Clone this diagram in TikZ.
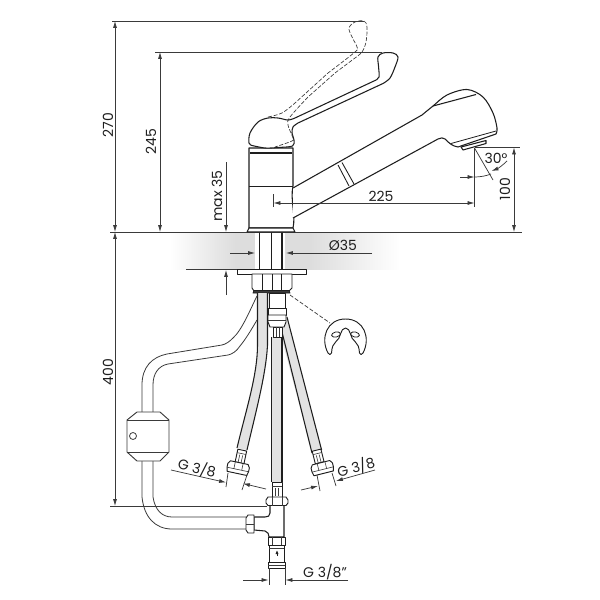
\documentclass[tikz,border=0pt]{standalone}
\usepackage{fontspec}
\setmainfont{Poppins}
\usetikzlibrary{arrows.meta}
\definecolor{ink}{HTML}{1E1E1E}
\definecolor{dimc}{HTML}{3A3A3A}
\definecolor{hosegray}{HTML}{E2E2E2}
\definecolor{bandgray}{HTML}{DDDDDD}
\tikzset{
 x=0.75pt,y=-0.75pt,
 body/.style={draw=ink,line width=0.8pt,line join=round},
 part/.style={draw=ink,line width=0.7pt,line join=round,fill=white},
 thinpart/.style={draw=dimc,line width=0.45pt},
 tube/.style={draw=dimc,line width=0.6pt},
 dimline/.style={draw=dimc,line width=0.55pt},
 dimarrow/.style={dimline,-{Latex[length=5.2pt,width=3pt]}},
 dimboth/.style={dimline,{Latex[length=5.2pt,width=3pt]}-{Latex[length=5.2pt,width=3pt]}},
 label/.style={font=\fontsize{10.5pt}{12pt}\selectfont,text=ink,inner sep=0pt},
 dashedpart/.style={draw=dimc,line width=0.5pt,dash pattern=on 3pt off 1.3pt,line join=round}
}
\begin{document}
\begin{tikzpicture}
\useasboundingbox (0,0) rectangle (600,600);
% counter band
\shade[left color=white,right color=bandgray] (170,232.5) rectangle (235,269.5);
\fill[bandgray] (235,232.5) rectangle (255,269.5);
\fill[bandgray] (285,232.5) rectangle (310,269.5);
\shade[left color=bandgray,right color=white] (310,232.5) rectangle (400,269.5);
% named points
\coordinate (topL) at (112,21); \coordinate (topR) at (364,21);
\coordinate (midL) at (155,52); \coordinate (midR) at (382,52);
\coordinate (baseL) at (110,232); \coordinate (baseR) at (522,232);
\coordinate (lowL) at (110,506); \coordinate (lowR) at (267,506);
\coordinate (a270) at (115,21); \coordinate (b270) at (115,232);
\coordinate (a245) at (160,52); \coordinate (b245) at (160,232);
\coordinate (a400) at (115,232); \coordinate (b400) at (115,506);
\draw[dimline] (topL)--(topR);
\draw[dimline] (midL)--(midR);
\draw[dimline] (baseL)--(baseR);
\draw[dimline] (lowL)--(lowR);
\draw[dimboth] (a270)--(b270);
\draw[dimboth] (a245)--(b245);
\draw[dimboth] (a400)--(b400);
\node[label,rotate=90] (t270) at (108,125) {270};
\node[label,rotate=90] (t245) at (151,142) {245};
\node[label,rotate=90] (t400) at (108,372) {400};
% max 35
\coordinate (m1) at (226,162); \coordinate (m2) at (226,232);
\coordinate (m3) at (226,295); \coordinate (m4) at (226,270);
\draw[dimarrow] (m1)--(m2);
\draw[dimarrow] (m3)--(m4);
\draw[dimline] (186,269.5)--(237,269.5);
\node[label,rotate=90] (tmax) at (217,196) {max 35};
% shaft
\draw[body] (259.5,232)--(259.5,269);
\draw[body] (282,232)--(282,269);
\draw[draw=ink,line width=1.3pt] (271.5,232)--(271.5,269);
% Ø35
\coordinate (d1) at (230,253); \coordinate (d2) at (255,253);
\coordinate (d3) at (372,253); \coordinate (d4) at (286,253);
\draw[dimarrow] (d1)--(d2);
\draw[dimarrow] (d3)--(d4);
\node[label] (tdia) at (343,245.5) {Ø35};
% faucet body
\draw[body,fill=white] (249,148)--(293,148)--(293,186) .. controls (290,200) and (296,215) .. (293,228)--(249,228)--cycle;
\draw[body] (249,186.5)--(293,186.5);
\draw[body,fill=white] (249,228)--(293,228)--(295,232)--(247,232)--cycle;
\draw[body] (250,153)--(292,153);
% spout
\draw[body,fill=white] (293,188) -- (422,115)
 -- plot[smooth,tension=0.55] coordinates {(422,115) (433,106) (447,95) (467,89.5) (483,97) (493,113) (497,128) (496,134)}
 -- (458,147) .. controls (452,146) and (449,143) .. (445,139) .. controls (443,137.5) and (441,137.5) .. (438,139) -- (293,218);
\draw[body] (433,106)--(476,94.5);
\draw[body] (461,147)--(486,140.5)--(486,143.5)--(463,150)--cycle;
\draw[body,line width=0.65pt] (338,165)--(349,186);
\draw[body,line width=0.65pt] (342,162.5)--(354,184);
\draw[body,line width=0.6pt] (451,143.5)--(496,131);
% handle
\draw[body,fill=white] plot[smooth,tension=0.55] coordinates {(252,145.5) (249,143) (250,133) (258,122) (268,118) (278,118) (288,120) (295,118)}
 -- (375,80.5)
 -- plot[smooth,tension=0.55] coordinates {(375,80.5) (379,77) (378.5,66) (378,57) (383,53) (393,53) (398,57) (395,67) (390,78) (383,83.5)}
 -- (298,123)
 -- plot[smooth,tension=0.55] coordinates {(298,123) (293,127) (292,133) (294,140) (292.5,146) (278,147.5) (265,148) (252,145.5)};
% dashed handle
\draw[dashedpart] plot[smooth,tension=0.55] coordinates {(268,117) (282,113) (295,103)} -- (328,73) -- plot[smooth,tension=0.55] coordinates {(328,73) (355,52) (357,47) (352,37) (349,28) (355,22) (364,21) (367,27) (366,42) (362,52) (355,58)} -- (335,73) -- (308,97) -- plot[smooth,tension=0.55] coordinates {(308,97) (290,117) (288,125) (293,138) (292,141) (275,147)};
% 225
\coordinate (l1) at (273.5,203); \coordinate (l2) at (474.5,203);
\draw[dimboth] (l1)--(l2);
\draw[dimline] (273.5,194)--(273.5,207);
\draw[dimline] (474.5,148)--(474.5,207);
\node[label] (t225) at (381,196) {225};
% 100
\coordinate (h1) at (514,147.5); \coordinate (h2) at (514,232);
\draw[dimboth] (h1)--(h2);
\draw[dimline] (474.5,147.5)--(520,147.5);
\node[label,rotate=90] (t100) at (505,189) {100};
% 30
\draw[dimline] (474.5,148)--(493,180);
\coordinate (p1) at (460,177); \coordinate (p2) at (474.5,177);
\draw[dimarrow] (p1)--(p2);
\draw[dimline] (p2) .. controls (480,177) and (486,176) .. (491,174);
\draw[dimarrow] (507,161) .. controls (503,165) and (498,168.5) .. (491.5,171);
\node[label] (t30) at (496,158) {30°};
% flange and nut
\draw[part] (237,269.5) rectangle (306,274);
\draw[part] (252,274)--(292,274)--(292,288)--(289,291)--(254,291)--(252,288)--cycle;
\draw[part] (262,274)--(262,291) (272,274)--(272,291) (281,274)--(281,291);
\draw[draw=ink,fill=dimc,line width=0.5pt] (254,290.5)--(289,290.5)--(290,293)--(253,293)--cycle;
% leader and clip
\coordinate (c0) at (290,295); \coordinate (c1) at (330,323);
\draw[dimline,dash pattern=on 3pt off 1.5pt] (c0)--(c1);
\draw[part] (328,353) .. controls (320,338) and (327,319) .. (345.5,319) .. controls (364,319) and (371,338) .. (363,353) .. controls (362,355) and (360,355) .. (359.5,353) .. controls (359,347) and (358,344) .. (355,341.5) .. controls (350,339) and (351,328) .. (345.5,328) .. controls (340,328) and (341,339) .. (336,341.5) .. controls (333,344) and (332,347) .. (331.5,353) .. controls (331,355) and (329,355) .. (328,353) -- cycle;
\draw[part,line width=0.6pt,rotate around={12:(336,334.5)}] (336,334.5) ellipse (4.5 and 2.5);
\draw[part,line width=0.6pt,rotate around={-12:(355,334.5)}] (355,334.5) ellipse (4.5 and 2.5);
% hoses
\fill[hosegray] (257.5,293)--(267.5,293) -- (267.5,345) .. controls (266,375) and (255,415) .. (247,450) -- (237,448) .. controls (246,410) and (257.5,375) .. (257.5,345) -- cycle;
\fill[hosegray] (286,315)--(321.6,450)--(312,453)--(280,332)--cycle;
\fill[hosegray] (272,337) rectangle (282,482);
\draw[body] (257.5,293)--(257.5,345) .. controls (257.5,375) and (246,410) .. (237,448);
\draw[body] (267.5,293)--(267.5,345) .. controls (266,375) and (255,415) .. (247,450);
\draw[body] (287,317)--(321.6,450);
\draw[body] (282,332)--(312,453);
\draw[body] (271.5,337)--(271.5,482);
\draw[body] (282,337)--(282,482);
% centre stack
\draw[part] (269,293) rectangle (285,308);
\draw[part] (268,308) rectangle (286,315);
\draw[part] (268,315)--(286,315)--(286,322)--(284,327)--(270,327)--(268,322)--cycle;
\draw[thinpart] (268,320)--(286,320);
\draw[part] (273,327) rectangle (282,337);
\draw[thinpart] (276,327)--(276,337) (279,327)--(279,337);
% capillary tube
\draw[tube] (257,296) .. controls (250,310) and (242,330) .. (233,338) .. controls (229,342) and (226,344) .. (222,345) -- (167,354) .. controls (152,357) and (142,367) .. (142,385) -- (142,412);
\draw[tube] (257,320) .. controls (250,332) and (245,340) .. (240,346) .. controls (236,352) and (232,354) .. (228,355) -- (168,364) .. controls (158,366) and (153,374) .. (153,385) -- (153,412);
\draw[tube] (142,461)--(142,497) .. controls (144,517) and (155,529) .. (172,529)--(246,529);
\draw[tube] (153,461)--(153,497) .. controls (155,510) and (162,517) .. (172,517)--(246,517);
\draw[part,draw=dimc] (137,412)--(160,412)--(169,420)--(169,452)--(160,461)--(137,461)--(127,452)--(127,420)--cycle;
\draw[thinpart] (127,420)--(169,420) (127,452)--(169,452);
\draw[part,draw=dimc,line width=0.6pt] (133,436) circle (3.5);
% left hose end
\begin{scope}[shift={(241,456)},rotate=-12]
 \draw[part] (-4.5,-6) rectangle (4.5,7);
 \draw[thinpart] (-4.5,-2.5)--(4.5,-2.5) (-1.5,-1)--(-1.5,7) (1.5,-1)--(1.5,7);
\end{scope}
\begin{scope}[shift={(238,468.5)},rotate=-12]
 \draw[part] (-9,-6) -- (9,-6) -- (11,-3) -- (11,1) -- (10,5) -- (-10,5) -- (-11,1) -- (-11,-3) -- cycle;
 \draw[thinpart] (-11,1)--(11,1) (-4,-6)--(-4,1) (4,-6)--(4,1);
\end{scope}
% right hose end
\begin{scope}[shift={(318,456)},rotate=14]
 \draw[part] (-4.5,-6) rectangle (4.5,7);
 \draw[thinpart] (-4.5,-2.5)--(4.5,-2.5) (-1.5,-1)--(-1.5,7) (1.5,-1)--(1.5,7);
\end{scope}
\begin{scope}[shift={(322.5,468.5)},rotate=14]
 \draw[part] (-9,-6) -- (9,-6) -- (11,-3) -- (11,1) -- (10,5) -- (-10,5) -- (-11,1) -- (-11,-3) -- cycle;
 \draw[thinpart] (-11,1)--(11,1) (-4,-6)--(-4,1) (4,-6)--(4,1);
\end{scope}
% bottom fitting
\draw[part] (272,482) rectangle (282,497);
\draw[thinpart] (272,486)--(282,486);
\draw[thinpart] (275.5,488)--(275.5,496) (278.5,488)--(278.5,496);
\draw[body,fill=white] (270,505)--(270,513) .. controls (270,516) and (268,517) .. (265,517)--(254,517)--(254,530)--(265,531) .. controls (268,532) and (269,534) .. (269,537)--(284,537)--(284,505)--cycle;
\draw[part] (268,497)--(286,497)--(288,500)--(288,503)--(286,505.5)--(268,505.5)--(266,503)--(266,500)--cycle;
\draw[thinpart] (272,497)--(272,505.5) (282,497)--(282,505.5);
\draw[part] (246,518)--(248,515)--(254,515)--(254,533)--(248,533)--(246,530)--cycle;
\draw[thinpart] (246,524)--(254,524);
\draw[part] (269,545) rectangle (284,562);
\draw[part] (268,537) rectangle (285,545);
\draw[thinpart] (272.5,537)--(272.5,545) (281,537)--(281,545);
\draw[thinpart] (269,548)--(284,548);
\draw[draw=ink,line width=0.6pt,-{Latex[length=3pt,width=2.4pt]}] (277,556)--(277,550);
\draw[part] (268,562) rectangle (285,568);
\draw[thinpart] (268,565)--(285,565);
% G 3/8 dims
\draw[dimline] (269,568)--(269,585);
\draw[dimline] (285,568)--(285,585);
\coordinate (g1) at (243,580); \coordinate (g2) at (268.5,580);
\coordinate (g3) at (348,580); \coordinate (g4) at (285.5,580);
\draw[dimarrow] (g1)--(g2);
\draw[dimarrow] (g3)--(g4);
\node[label] (tg3) at (325,572) {G 3/8"};
\draw[dimline] (228,473)--(226,487);
\draw[dimline] (247,475)--(242,490);
\coordinate (gl1) at (171,470); \coordinate (gl2) at (226,482.5);
\coordinate (gl3) at (266,489); \coordinate (gl4) at (243,483.5);
\draw[dimarrow] (gl1)--(gl2);
\draw[dimarrow] (gl3)--(gl4);
\node[label,rotate=-13] (tg1) at (197,468) {G 3/8};
\draw[dimline] (317,475)--(320,491);
\draw[dimline] (332,473)--(336,486);
\coordinate (gr1) at (301,490); \coordinate (gr2) at (318,486);
\coordinate (gr3) at (375,470); \coordinate (gr4) at (336,481);
\draw[dimarrow] (gr1)--(gr2);
\draw[dimarrow] (gr3)--(gr4);
\node[label,rotate=15] (tg2) at (356,467) {G 3/8};
\end{tikzpicture}
\end{document}
